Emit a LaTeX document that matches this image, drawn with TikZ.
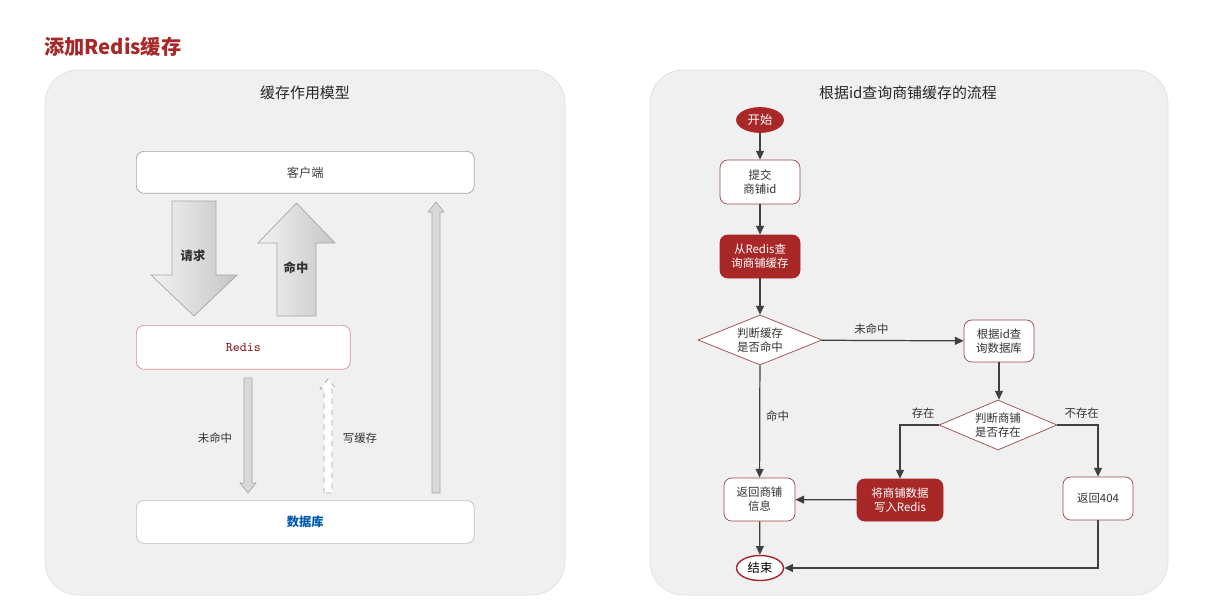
\documentclass[tikz,border=0pt]{standalone}
\usepackage{fontspec}
\setmainfont{Noto Sans CJK SC}
\usetikzlibrary{positioning,arrows.meta,shapes.geometric}
\definecolor{brick}{HTML}{A82828}
\definecolor{panelgray}{HTML}{F0F0F0}
\tikzset{>={Triangle[length=5pt,width=4.5pt]}}

% vertical block arrow: x centre, shaft half width, head half width, tail y, head base y, tip y
\newcommand{\vblock}[7][]{%
\draw[#1] (#2-#3,#5) -- (#2-#3,#6) -- (#2-#4,#6) -- (#2,#7) -- (#2+#4,#6) -- (#2+#3,#6) -- (#2+#3,#5) -- cycle;}

\begin{document}
\begin{tikzpicture}[x=0.02cm,y=-0.02cm,
panel/.style={draw=gray!25, fill=panelgray, rounded corners=3.5ex},
layer/.style={draw=gray!70, fill=white, rounded corners=.8ex, anchor=north west, font=\fontsize{7}{8}\selectfont, text=black!75},
box/.style={draw=brick!60!gray, fill=white, rounded corners=.8ex, minimum width=1.5cm, minimum height=0.86cm, align=center, font=\fontsize{6.5}{8}\selectfont, text=black!80, inner sep=1pt},
redbox/.style={box, fill=brick, draw=brick, text=white},
decide/.style={diamond, aspect=2.45, draw=brick!60!gray, fill=white, align=center, font=\fontsize{6.5}{8}\selectfont, text=black!80, inner sep=0pt, minimum width=2.48cm, minimum height=1cm},
terminal/.style={ellipse, draw=brick, minimum width=0.94cm, minimum height=0.5cm, inner sep=0pt, font=\fontsize{7}{8}\selectfont},
bigarrow/.style={draw=gray!70, left color=gray!10, right color=gray!45},
thinarrow/.style={draw=gray!70, fill=gray!30},
flow/.style={->, draw=black!75, line width=0.7pt},
lbl/.style={font=\fontsize{6.5}{8}\selectfont, text=black!80}
]
\useasboundingbox[fill=white] (0,0) rectangle (1219,612);

% heading
\node[anchor=west, text=brick, font=\fontsize{11.5}{13}\selectfont\bfseries] (heading) at (38,47) {添加Redis缓存};

% left panel: caching model
\draw[panel] (45,70) rectangle (565,595);
\node[font=\fontsize{8.5}{10}\selectfont, text=black!85] (titleL) at (305,93) {缓存作用模型};
\node[layer, minimum width=6.76cm, minimum height=0.84cm] (client) at (136,151) {};
\node at (client.center) [font=\fontsize{7}{8}\selectfont, text=black!75] {客户端};
\node[layer, draw=brick!50, minimum width=4.28cm, minimum height=0.88cm] (redis) at (136,325) {};
\node at (redis.center) [font=\ttfamily\fontsize{7.5}{8}\selectfont, text=brick!80!black] {Redis};
\node[layer, draw=gray!50, minimum width=6.76cm, minimum height=0.86cm] (db) at (136,500) {};
\node at (db.center) [font=\fontsize{7}{8}\selectfont\bfseries, text=blue!50!cyan!70!black] {数据库};

\vblock[bigarrow]{194}{22}{43}{201}{275}{316}
\node[font=\fontsize{7}{8}\selectfont\bfseries, text=black!80] (request) at (193,256) {请求};
\vblock[bigarrow]{296.5}{19.5}{38.5}{316}{243}{203}
\node[font=\fontsize{7}{8}\selectfont\bfseries, text=black!80] (hit) at (296,268) {命中};

\vblock[thinarrow]{248}{4}{8}{378}{483}{493}
\node[lbl] (miss) at (215,438) {未命中};
\vblock[thinarrow, dashed, fill=white]{328}{4}{8}{493}{389}{379}
\node[lbl] (write) at (360,438) {写缓存};
\vblock[thinarrow]{436}{4}{8}{493}{212}{202}

% right panel: query flow
\draw[panel] (650,70) rectangle (1168,595);
\node[font=\fontsize{8.5}{10}\selectfont, text=black!85] (titleR) at (908,93) {根据id查询商铺缓存的流程};

\node[terminal, fill=brick, text=white] (start) at (760,120) {开始};
\node[box, minimum width=1.6cm, minimum height=0.88cm] (submit) at (760,182) {提交\\商铺id};
\node[redbox, minimum width=1.6cm, minimum height=0.86cm] (query) at (760,256.5) {从Redis查\\询商铺缓存};
\node[decide] (cached) at (760,340) {判断缓存\\是否命中};
\node[box, minimum width=1.4cm, minimum height=0.84cm] (dbquery) at (999,341) {根据id查\\询数据库};
\node[decide, minimum width=2.36cm] (exists) at (998,425) {判断商铺\\是否存在};
\node[box, minimum width=1.42cm, minimum height=0.86cm] (back) at (759.5,499.5) {返回商铺\\信息};
\node[redbox, minimum width=1.72cm, minimum height=0.84cm] (save) at (900,500) {将商铺数据\\写入Redis};
\node[box, minimum width=1.4cm, minimum height=0.86cm] (notfound) at (1098,498.5) {返回404};
\node[terminal, fill=white, line width=0.8pt] (finish) at (760,568) {结束};

\draw[flow] (start) -- (submit);
\draw[flow] (submit) -- (query);
\draw[flow] (query) -- (cached);
\draw[flow] (cached) -- node[lbl, above, pos=0.35] {未命中} (dbquery);
\draw[flow] (cached) -- node[lbl, right, pos=0.45] {命中} (back);
\draw[flow] (dbquery) -- (dbquery |- exists.north);
\draw[flow] (exists.west) -| node[lbl, above, pos=0.2] {存在} (save);
\draw[flow] (exists.east) -| node[lbl, above, pos=0.3] {不存在} (notfound);
\draw[flow] (save) -- (back);
\draw[flow] (back) -- (finish);
\draw[flow] (notfound) |- (finish);
\end{tikzpicture}
\end{document}
